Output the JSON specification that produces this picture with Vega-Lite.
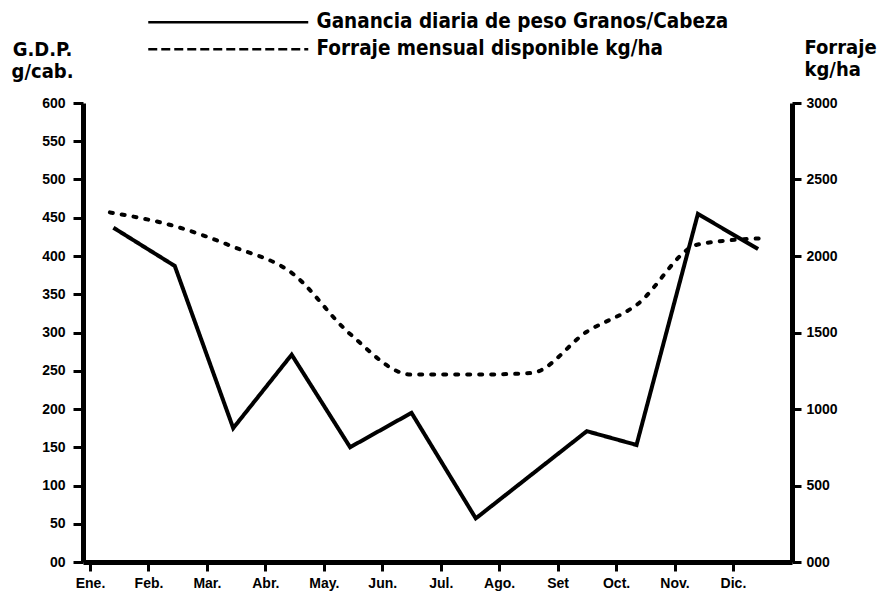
{
  "$schema": "https://vega.github.io/schema/vega-lite/v6.json",
  "width": 709,
  "height": 459,
  "autosize": "none",
  "padding": {"left": 83, "top": 103, "right": 95, "bottom": 40},
  "background": "white",
  "config": {
    "view": {"stroke": null},
    "font": "Liberation Sans Narrow, DejaVu Sans Condensed, sans-serif",
    "axis": {
      "grid": false,
      "domainColor": "black",
      "domainWidth": 5,
      "tickColor": "black",
      "tickWidth": 3,
      "labelColor": "black",
      "labelFont": "Liberation Sans, sans-serif",
      "labelFontWeight": "bold",
      "labelFontSize": 14,
      "titleColor": "black",
      "titleFont": "Liberation Sans Narrow, DejaVu Sans Condensed, sans-serif",
      "titleFontWeight": "bold",
      "titleFontSize": 20
    }
  },
  "layer": [
    {
      "data": {
        "values": [
          {"mes": 0.4, "gdp": 437, "serie": "Ganancia diaria de peso Granos/Cabeza"},
          {"mes": 1.45, "gdp": 387, "serie": "Ganancia diaria de peso Granos/Cabeza"},
          {"mes": 2.45, "gdp": 175, "serie": "Ganancia diaria de peso Granos/Cabeza"},
          {"mes": 3.45, "gdp": 271, "serie": "Ganancia diaria de peso Granos/Cabeza"},
          {"mes": 4.45, "gdp": 150, "serie": "Ganancia diaria de peso Granos/Cabeza"},
          {"mes": 5.5, "gdp": 195, "serie": "Ganancia diaria de peso Granos/Cabeza"},
          {"mes": 6.6, "gdp": 57, "serie": "Ganancia diaria de peso Granos/Cabeza"},
          {"mes": 7.55, "gdp": 114, "serie": "Ganancia diaria de peso Granos/Cabeza"},
          {"mes": 8.5, "gdp": 171, "serie": "Ganancia diaria de peso Granos/Cabeza"},
          {"mes": 9.35, "gdp": 153, "serie": "Ganancia diaria de peso Granos/Cabeza"},
          {"mes": 10.4, "gdp": 455, "serie": "Ganancia diaria de peso Granos/Cabeza"},
          {"mes": 11.43, "gdp": 409, "serie": "Ganancia diaria de peso Granos/Cabeza"}
        ]
      },
      "mark": {"type": "line", "color": "black", "strokeWidth": 4, "strokeJoin": "miter"},
      "encoding": {
        "x": {
          "field": "mes", "type": "quantitative",
          "scale": {"domain": [-0.12, 12.01], "nice": false, "zero": false},
          "axis": {
            "title": null,
            "values": [0, 1, 2, 3, 4, 5, 6, 7, 8, 9, 10, 11],
            "tickSize": 9,
            "labelPadding": 5,
            "labelFontSize": 14,
            "labelExpr": "['Ene.','Feb.','Mar.','Abr.','May.','Jun.','Jul.','Ago.','Set','Oct.','Nov.','Dic.'][datum.value]"
          }
        },
        "y": {
          "field": "gdp", "type": "quantitative",
          "scale": {"domain": [0, 600], "nice": false},
          "axis": {
            "orient": "left",
            "values": [0, 50, 100, 150, 200, 250, 300, 350, 400, 450, 500, 550, 600],
            "tickSize": 10,
            "labelPadding": 8,
            "labelExpr": "datum.value == 0 ? '00' : datum.value",
            "title": ["G.D.P.", "g/cab."],
            "titleAngle": 0,
            "titleAlign": "center",
            "titleBaseline": "alphabetic",
            "titleX": -41,
            "titleY": -48,
            "titleLineHeight": 22
          }
        },
        "strokeDash": {
          "field": "serie", "type": "nominal",
          "scale": {
            "domain": ["Ganancia diaria de peso Granos/Cabeza", "Forraje mensual disponible kg/ha"],
            "range": [[1, 0], [9, 4]]
          },
          "legend": {
            "title": null,
            "orient": "none",
            "legendX": 211,
            "legendY": -91,
            "padding": 0,
            "rowPadding": 6,
            "symbolType": "M-19.5,0H0.5",
            "symbolSize": 256,
            "symbolStrokeColor": "black",
            "symbolFillColor": "transparent",
            "symbolStrokeWidth": 2.5,
            "labelFont": "Liberation Sans Narrow, DejaVu Sans Condensed, sans-serif",
            "labelFontWeight": "bold",
            "labelFontSize": 20.5,
            "labelColor": "black",
            "labelOffset": 2,
            "labelLimit": 600
          }
        }
      }
    },
    {
      "data": {
        "values": [
          {"mes": 0.34, "forraje": 2285},
          {"mes": 1.45, "forraje": 2195},
          {"mes": 2.45, "forraje": 2060},
          {"mes": 3.45, "forraje": 1890},
          {"mes": 4.45, "forraje": 1490},
          {"mes": 5.5, "forraje": 1225},
          {"mes": 6.6, "forraje": 1225},
          {"mes": 7.55, "forraje": 1235},
          {"mes": 8.5, "forraje": 1505},
          {"mes": 9.35, "forraje": 1680},
          {"mes": 10.4, "forraje": 2075},
          {"mes": 11.46, "forraje": 2115}
        ]
      },
      "mark": {"type": "line", "color": "black", "strokeWidth": 4, "strokeCap": "round", "strokeDash": [3, 9], "interpolate": "monotone"},
      "encoding": {
        "x": {"field": "mes", "type": "quantitative"},
        "y": {
          "field": "forraje", "type": "quantitative",
          "scale": {"domain": [0, 3000], "nice": false},
          "axis": {
            "orient": "right",
            "values": [0, 500, 1000, 1500, 2000, 2500, 3000],
            "tickSize": 9,
            "labelPadding": 5,
            "labelExpr": "datum.value == 0 ? '000' : datum.value",
            "title": ["Forraje", "kg/ha"],
            "titleAngle": 0,
            "titleAlign": "left",
            "titleBaseline": "alphabetic",
            "titleX": 12,
            "titleY": -50,
            "titleLineHeight": 22
          }
        }
      }
    }
  ],
  "resolve": {"scale": {"y": "independent"}}
}
